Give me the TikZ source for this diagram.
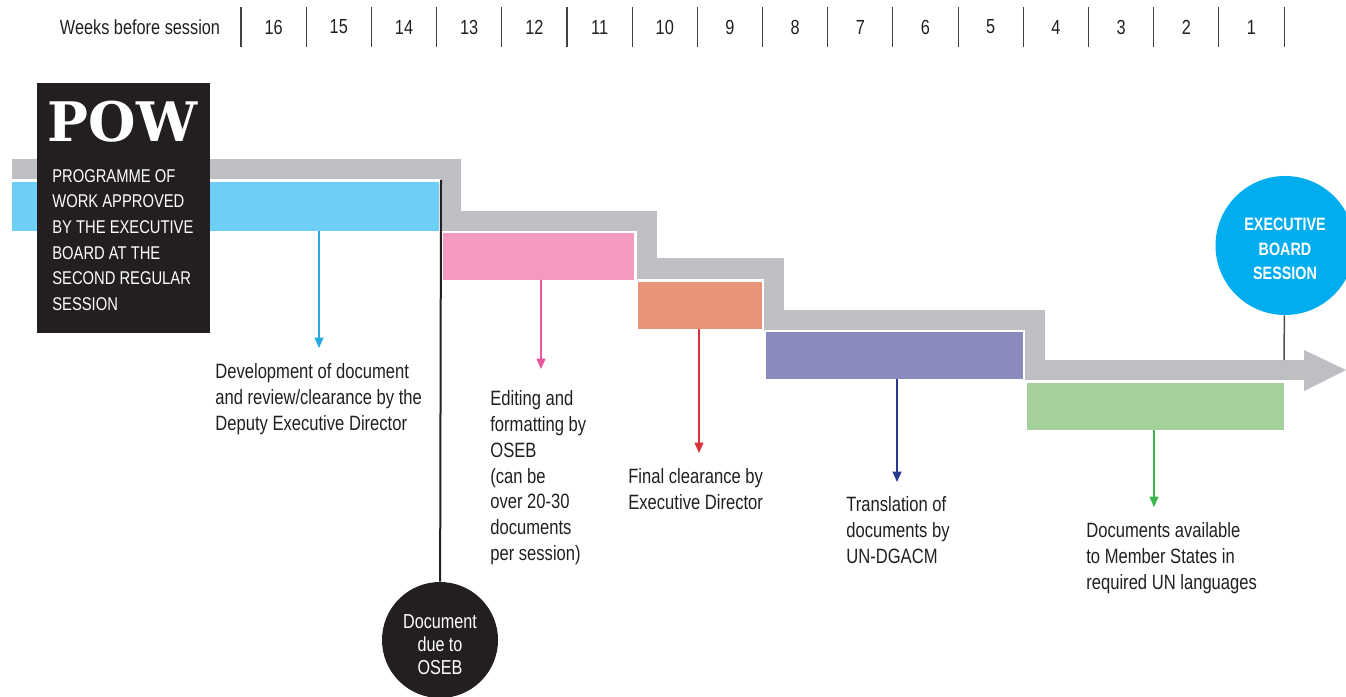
\documentclass[tikz,border=0pt]{standalone}
\usepackage{fontspec}
\setmainfont{Liberation Sans}[FakeStretch=0.8]
\newfontfamily\powfont{DejaVu Serif}
\usetikzlibrary{arrows.meta}

\definecolor{inkblack}{HTML}{231F20}
\definecolor{bandgray}{HTML}{BEBFC2}
\definecolor{devblue}{HTML}{6DCFF6}
\definecolor{editpink}{HTML}{F49AC2}
\definecolor{finalsalmon}{HTML}{E8937A}
\definecolor{transpurple}{HTML}{8A8ABD}
\definecolor{availgreen}{HTML}{A3D09B}
\definecolor{sessioncyan}{HTML}{00AEEF}
\definecolor{arrblue}{HTML}{27AAE1}
\definecolor{arrpink}{HTML}{E9559E}
\definecolor{arrred}{HTML}{D9343A}
\definecolor{arrnavy}{HTML}{2B3990}
\definecolor{arrgreen}{HTML}{3AB54A}

\begin{document}
\begin{tikzpicture}[x=0.2mm, y=-0.2mm,
    every node/.style={inner sep=0pt, text=inkblack},
    weeknum/.style={font=\fontsize{11.6}{14}\selectfont},
    note/.style={anchor=north west, align=left, font=\fontsize{11.8}{14.74}\selectfont},
    band/.style={draw=bandgray, line width=4mm, line join=miter},
    pointer/.style={-{Triangle[width=1.8mm,length=2.1mm]}, line width=0.3mm, shorten >=3mm}]
      \useasboundingbox (0,0) rectangle (1346,697);
      \clip (0,0) rectangle (1346,697);
      % week scale
      \node[weeknum] (weeks) at (140,27) {Weeks before session};
      \foreach \i in {0,...,16}
        \draw[line width=0.22mm, inkblack!85] ({241+65.19*\i},7) -- ({241+65.19*\i},47);
      \node[weeknum] (w16) at (273.6,27) {16};
      \node[weeknum] (w15) at (338.8,27) {15};
      \node[weeknum] (w14) at (404.0,27) {14};
      \node[weeknum] (w13) at (469.2,27) {13};
      \node[weeknum] (w12) at (534.4,27) {12};
      \node[weeknum] (w11) at (599.6,27) {11};
      \node[weeknum] (w10) at (664.8,27) {10};
      \node[weeknum] (w9) at (730.0,27) {9};
      \node[weeknum] (w8) at (795.1,27) {8};
      \node[weeknum] (w7) at (860.3,27) {7};
      \node[weeknum] (w6) at (925.5,27) {6};
      \node[weeknum] (w5) at (990.7,27) {5};
      \node[weeknum] (w4) at (1055.9,27) {4};
      \node[weeknum] (w3) at (1121.1,27) {3};
      \node[weeknum] (w2) at (1186.3,27) {2};
      \node[weeknum] (w1) at (1251.5,27) {1};
      % stepped band
      \draw[band] (12,169) -- (450.5,169) -- (450.5,221) -- (646.5,221) -- (646.5,268.5)
        -- (774,268.5) -- (774,320) -- (1035,320) -- (1035,369.5) -- (1305,369.5);
      \fill[bandgray] (1304,350) -- (1346,370) -- (1304,391) -- cycle;
      % stages
      \fill[devblue] (12,182) rectangle (439,231);
      \fill[editpink] (443,233) rectangle (634,280);
      \fill[finalsalmon] (638,282) rectangle (762,329);
      \fill[transpurple] (766,332) rectangle (1023,379);
      \fill[availgreen] (1027,383) rectangle (1284,430);
      \coordinate (devbar) at (319,231);
      \coordinate (editbar) at (541,280);
      \coordinate (finalbar) at (699,329);
      \coordinate (transbar) at (897,379);
      \coordinate (availbar) at (1154,430);
      \node[note] (dev) at (215,363) {Development of document\\and review/clearance by the\\Deputy Executive Director};
      \node[note] (edit) at (490,390) {Editing and\\formatting by\\OSEB\\(can be\\over 20-30\\documents\\per session)};
      \node[note] (final) at (628,468) {Final clearance by\\Executive Director};
      \node[note] (trans) at (846,496) {Translation of\\documents by\\UN-DGACM};
      \node[note] (avail) at (1086,522) {Documents available\\to Member States in\\required UN languages};
      \draw[pointer, arrblue] (devbar) -- (devbar |- dev.north);
      \draw[pointer, arrpink, shorten >=4.2mm] (editbar) -- (editbar |- edit.north);
      \draw[pointer, arrred] (finalbar) -- (finalbar |- final.north);
      \draw[pointer, arrnavy, shorten >=2.8mm] (transbar) -- (transbar |- trans.north);
      \draw[pointer, arrgreen] (availbar) -- (availbar |- avail.north);
      % programme of work
      \node[fill=inkblack, anchor=north west, minimum width=34.6mm, minimum height=50mm] (pow) at (37,83) {};
      \node[text=white, font=\powfont\bfseries\fontsize{31}{31}\selectfont] (powtitle) at (122.5,121.5) {POW};
      \node[text=white, anchor=north west, align=left, font=\fontsize{10.5}{14.57}\selectfont] (powtext) at (52,169)
        {PROGRAMME OF\\WORK APPROVED\\BY THE EXECUTIVE\\BOARD AT THE\\SECOND REGULAR\\SESSION};
      % document due
      \coordinate (duetop) at (441,180);
      \node[circle, fill=inkblack, minimum size=23.2mm, text=white, align=center,
        font=\fontsize{11.5}{13}\selectfont] (due) at (440,640) {\rule{0pt}{4.5mm}Document\\due to\\OSEB};
      \draw[line width=0.4mm, inkblack] (duetop) -- (due);
      % board session
      \node[circle, fill=sessioncyan, minimum size=27.8mm, text=white, align=center,
        font=\bfseries\fontsize{10.2}{13.9}\selectfont] (ebs) at (1285,245.5) {\rule{0pt}{3.9mm}EXECUTIVE\\BOARD\\SESSION};
      \coordinate (ebsband) at (1284,360);
      \draw[line width=0.3mm, inkblack!80] (ebs) -- (ebsband);
    \end{tikzpicture}
\end{document}
